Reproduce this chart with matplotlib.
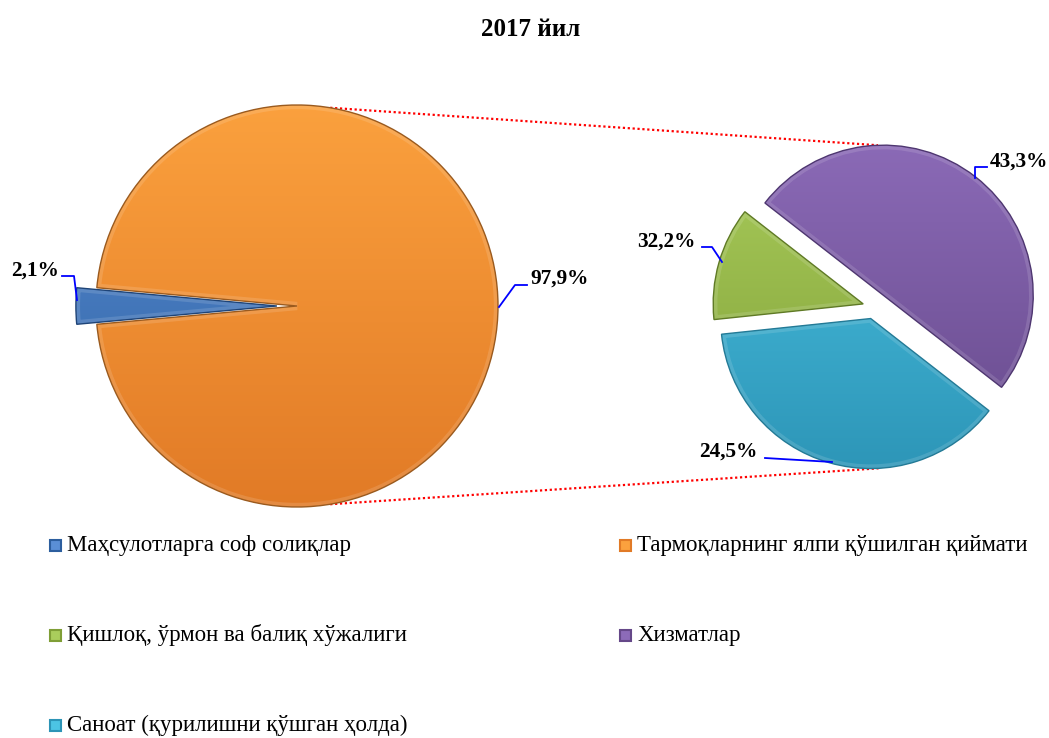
import numpy as np
import matplotlib
matplotlib.use("Agg")
import matplotlib.pyplot as plt
from matplotlib.patches import Rectangle, Wedge
from matplotlib.colors import LinearSegmentedColormap

# ---------------- data ----------------
title = "2017 йил"
left_names = ["Маҳсулотларга соф солиқлар", "Тармоқларнинг ялпи қўшилган қиймати"]
left_sizes = [2.9, 97.1]                      # slice sizes as drawn in the picture
left_labels = ["2,1%", "97,9%"]               # label texts as printed
right_names = ["Қишлоқ, ўрмон ва балиқ хўжалиги", "Хизматлар", "Саноат (қурилишни қўшган ҳолда)"]
right_sizes = [12.2, 50.0, 37.8]              # slice sizes as drawn in the picture
right_labels = ["32,2%", "43,3%", "24,5%"]    # label texts as printed

# colours (top, bottom of gradient)
c_blue = ("#5A8FD6", "#2C5E9E")
c_orange = ("#FBA13E", "#E17A26")
c_green = ("#AACD5C", "#7F9E36")
c_purple = ("#8C6BB8", "#654889")
c_cyan = ("#4CC4E4", "#2C94B6")

W, H = 1049, 738
fig = plt.figure(figsize=(W / 100, H / 100), dpi=100)
ax = fig.add_axes([0, 0, 1, 1])

def Y(y):
    return H - y

serif = ["Liberation Serif", "DejaVu Serif"]

def shade(wedges, cols, ext):
    for w, (ctop, cbot) in zip(wedges, cols):
        cmap = LinearSegmentedColormap.from_list("g", [cbot, ctop])
        grad = np.linspace(0, 1, 256).reshape(-1, 1)
        im = ax.imshow(grad, cmap=cmap, origin="lower", extent=ext,
                       aspect="auto", zorder=2, interpolation="bilinear")
        im.set_clip_path(w)
        w.set_facecolor("none")
        w.set_zorder(4)
        # subtle bevel-like inner rim
        rim = Wedge(w.center, w.r, w.theta1, w.theta2, facecolor="none",
                    edgecolor="white", alpha=0.13, linewidth=6, zorder=3)
        ax.add_patch(rim)
        rim.set_clip_path(w)

# ---------------- left pie ----------------
lcx, lcy, lr = 297, Y(306), 201
lstart = 180 - left_sizes[0] / 100 * 360 / 2
lw_, _ = ax.pie(left_sizes, center=(lcx, lcy), radius=lr, startangle=lstart,
                counterclock=True, explode=[0.1 * lr, 0],
                wedgeprops=dict(linewidth=1.0, edgecolor="#9a5a1e"))
lw_[0].set_edgecolor("#1f4477")
shade(lw_, [c_blue, c_orange], [lcx - lr - 30, lcx + lr + 5, lcy - lr - 5, lcy + lr + 5])

# ---------------- right pie ----------------
rcx, rcy, rr = 874, Y(307), 150
rw_, _ = ax.pie(right_sizes, center=(rcx, rcy), radius=rr, startangle=186,
                counterclock=False, explode=[0.075 * rr, 0.1 * rr, 0.08 * rr],
                wedgeprops=dict(linewidth=1.0))
for w, ec in zip(rw_, ["#5f7a25", "#4e3670", "#237a96"]):
    w.set_edgecolor(ec)
shade(rw_, [c_green, c_purple, c_cyan], [rcx - rr - 25, rcx + rr + 25, rcy - rr - 25, rcy + rr + 25])

# ---------------- connector lines ----------------
def pt(w, ang):
    cx, cy = w.center
    return cx + w.r * np.cos(np.radians(ang)), cy + w.r * np.sin(np.radians(ang))

p1 = (lcx + lr * np.cos(np.radians(80.5)), lcy + lr * np.sin(np.radians(80.5)))
p2 = pt(rw_[1], 92)
p3 = (lcx + lr * np.cos(np.radians(-80.5)), lcy + lr * np.sin(np.radians(-80.5)))
p4 = pt(rw_[2], -87)
for a, b in [(p1, p2), (p3, p4)]:
    ax.plot([a[0], b[0]], [a[1], b[1]], color="#FF0000", linestyle=(0, (1, 1.2)),
            linewidth=1.6, zorder=1)

# ---------------- data labels with leader lines ----------------
lab_kw = dict(fontsize=15.3, fontweight="bold", family=serif, color="black", zorder=6)
lead_kw = dict(color="#0000FF", linewidth=1.3, zorder=5)

# 2,1%
ax.plot([62, 74, 77], [Y(276), Y(276), Y(300)], **lead_kw)
ax.text(59, Y(271), left_labels[0], ha="right", va="center", **lab_kw)
# 97,9%
ax.plot([499, 515, 527], [Y(307), Y(285), Y(285)], **lead_kw)
ax.text(530, Y(279), left_labels[1], ha="left", va="center", **lab_kw)
# 32,2%
ax.plot([702, 712, 722], [Y(247), Y(247), Y(262)], **lead_kw)
ax.text(696, Y(242), right_labels[0], ha="right", va="center", **lab_kw)
# 43,3%
ax.plot([975, 975, 987], [Y(178), Y(167), Y(167)], **lead_kw)
ax.text(990, Y(162), right_labels[1], ha="left", va="center", **lab_kw)
# 24,5%
ax.plot([765, 832], [Y(458), Y(462)], **lead_kw)
ax.text(758, Y(452), right_labels[2], ha="right", va="center", **lab_kw)

# ---------------- title ----------------
ax.text(W / 2 + 6, Y(29), title, ha="center", va="center", fontsize=18,
        fontweight="bold", family=serif)

# ---------------- legend ----------------
leg_items = [
    (left_names[0], c_blue, 50, 545),
    (left_names[1], c_orange, 620, 545),
    (right_names[0], c_green, 50, 635),
    (right_names[1], c_purple, 620, 635),
    (right_names[2], c_cyan, 50, 725),
]
for name, (ctop, cbot), x, y in leg_items:
    ax.add_patch(Rectangle((x, Y(y) - 5.5), 11, 11, facecolor=ctop,
                           edgecolor=cbot, linewidth=1.5, zorder=5))
    ax.text(x + 17, Y(y), name, ha="left", va="center", fontsize=16.5,
            family=serif, color="black")

ax.set_xlim(0, W)
ax.set_ylim(0, H)
ax.set_aspect("equal")
ax.axis("off")
fig.savefig("out.png", dpi=100)
